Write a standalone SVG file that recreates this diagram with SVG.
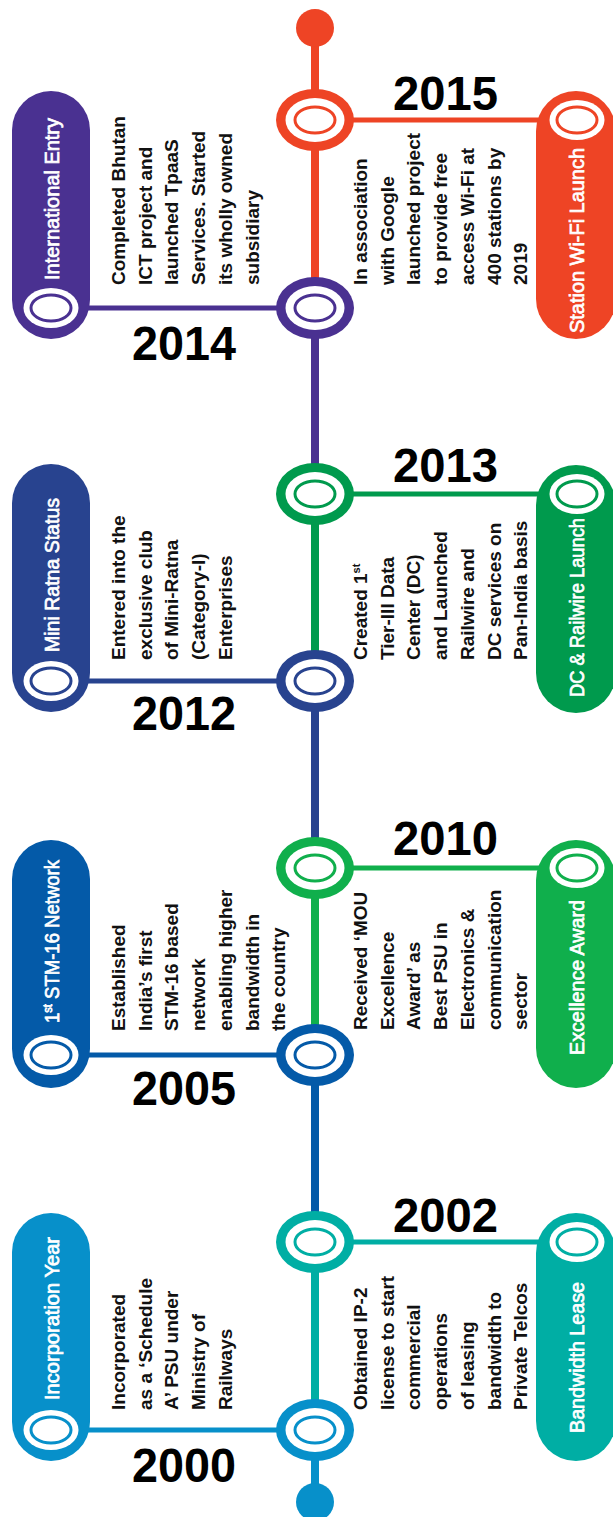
<svg xmlns="http://www.w3.org/2000/svg" xmlns:xlink="http://www.w3.org/1999/xlink" width="613" height="1517" viewBox="0 0 613 1517">
<style>
.desc{font-family:"Liberation Sans",Arial,sans-serif;font-weight:bold;font-size:19px;fill:#111}
.lbl{font-family:"Liberation Sans",Arial,sans-serif;font-weight:normal;font-size:20px;fill:#fff;stroke:#fff;stroke-width:0.7}
.yr{font-family:"Liberation Sans",Arial,sans-serif;font-weight:bold;font-size:48px;fill:#000}
.sp{stroke-width:8}
.hc{stroke-width:5}
.c15{color:#EE4425}.c14{color:#4A3191}.c13{color:#009A4D}.c12{color:#28438F}
.c10{color:#10AF4C}.c05{color:#045AA8}.c02{color:#00AEA4}.c00{color:#0790CA}
</style>
<defs>
<g id="hub"><ellipse rx="39" ry="31" fill="currentColor"/><ellipse rx="29.5" ry="22" fill="#fff"/><ellipse rx="20" ry="13" fill="#fff" stroke="currentColor" stroke-width="3"/></g>
<g id="pin"><ellipse rx="27.5" ry="20" fill="#fff"/><ellipse rx="20" ry="13" fill="#fff" stroke="currentColor" stroke-width="3"/></g>
</defs>
<rect width="613" height="1517" fill="#fff"/>
<g id="connectors">
<line class="sp" x1="315" y1="28" x2="315" y2="308" stroke="#EE4425"/>
<line class="sp" x1="315" y1="308" x2="315" y2="494" stroke="#4A3191"/>
<line class="sp" x1="315" y1="494" x2="315" y2="681" stroke="#009A4D"/>
<line class="sp" x1="315" y1="681" x2="315" y2="868" stroke="#28438F"/>
<line class="sp" x1="315" y1="868" x2="315" y2="1055" stroke="#10AF4C"/>
<line class="sp" x1="315" y1="1055" x2="315" y2="1242" stroke="#045AA8"/>
<line class="sp" x1="315" y1="1242" x2="315" y2="1430" stroke="#00AEA4"/>
<line class="sp" x1="315" y1="1430" x2="315" y2="1502" stroke="#0790CA"/>
<circle cx="315" cy="28" r="19" fill="#EE4425"/>
<circle cx="315" cy="1502" r="19" fill="#0790CA"/>
<line class="hc" x1="315" y1="120" x2="560" y2="120" stroke="#EE4425"/>
<line class="hc" x1="51" y1="308" x2="315" y2="308" stroke="#4A3191"/>
<line class="hc" x1="315" y1="494" x2="560" y2="494" stroke="#009A4D"/>
<line class="hc" x1="51" y1="681" x2="315" y2="681" stroke="#28438F"/>
<line class="hc" x1="315" y1="868" x2="560" y2="868" stroke="#10AF4C"/>
<line class="hc" x1="51" y1="1055" x2="315" y2="1055" stroke="#045AA8"/>
<line class="hc" x1="315" y1="1242" x2="560" y2="1242" stroke="#00AEA4"/>
<line class="hc" x1="51" y1="1430" x2="315" y2="1430" stroke="#0790CA"/>
</g>

<g id="node-2015" class="c15">
<use xlink:href="#hub" x="315" y="120"/>
<rect x="536" y="91" width="80" height="248" rx="40" fill="currentColor"/>
<use xlink:href="#pin" x="577" y="120"/>
<text class="lbl" transform="translate(584,333) rotate(-90)" textLength="185" lengthAdjust="spacingAndGlyphs">Station Wi-Fi Launch</text>
<text class="yr" x="393" y="110" textLength="105" lengthAdjust="spacingAndGlyphs">2015</text>
<text class="desc" transform="translate(367,285) rotate(-90)"><tspan x="0" y="0">In association</tspan><tspan x="0" dy="26.7">with Google</tspan><tspan x="0" dy="26.7">launched project</tspan><tspan x="0" dy="26.7">to provide free</tspan><tspan x="0" dy="26.7">access Wi-Fi at</tspan><tspan x="0" dy="26.7">400 stations by</tspan><tspan x="0" dy="26.7">2019</tspan></text>
</g>

<g id="node-2014" class="c14">
<use xlink:href="#hub" x="315" y="308"/>
<rect x="12" y="91" width="78" height="248" rx="39" fill="currentColor"/>
<use xlink:href="#pin" x="51" y="308"/>
<text class="lbl" transform="translate(59,280) rotate(-90)" textLength="162" lengthAdjust="spacingAndGlyphs">International Entry</text>
<text class="yr" x="132" y="360" textLength="104" lengthAdjust="spacingAndGlyphs">2014</text>
<text class="desc" transform="translate(125,285) rotate(-90)"><tspan x="0" y="0">Completed Bhutan</tspan><tspan x="0" dy="26.7">ICT project and</tspan><tspan x="0" dy="26.7">launched TpaaS</tspan><tspan x="0" dy="26.7">Services. Started</tspan><tspan x="0" dy="26.7">its wholly owned</tspan><tspan x="0" dy="26.7">subsidiary</tspan></text>
</g>

<g id="node-2013" class="c13">
<use xlink:href="#hub" x="315" y="494"/>
<rect x="536" y="465" width="80" height="248" rx="40" fill="currentColor"/>
<use xlink:href="#pin" x="577" y="494"/>
<text class="lbl" transform="translate(584,697) rotate(-90)" textLength="179" lengthAdjust="spacingAndGlyphs">DC &amp; Railwire Launch</text>
<text class="yr" x="393" y="482" textLength="105" lengthAdjust="spacingAndGlyphs">2013</text>
<text class="desc" transform="translate(367,660) rotate(-90)"><tspan x="0" y="0">Created 1</tspan><tspan dy="-7" font-size="11">st</tspan><tspan x="0" y="26.7">Tier-III Data</tspan><tspan x="0" dy="26.7">Center (DC)</tspan><tspan x="0" dy="26.7">and Launched</tspan><tspan x="0" dy="26.7">Railwire and</tspan><tspan x="0" dy="26.7">DC services on</tspan><tspan x="0" dy="26.7">Pan-India basis</tspan></text>
</g>

<g id="node-2012" class="c12">
<use xlink:href="#hub" x="315" y="681"/>
<rect x="12" y="464" width="78" height="248" rx="39" fill="currentColor"/>
<use xlink:href="#pin" x="51" y="681"/>
<text class="lbl" transform="translate(59,652) rotate(-90)" textLength="154" lengthAdjust="spacingAndGlyphs">Mini Ratna Status</text>
<text class="yr" x="132" y="730" textLength="104" lengthAdjust="spacingAndGlyphs">2012</text>
<text class="desc" transform="translate(125,660) rotate(-90)"><tspan x="0" y="0">Entered into the</tspan><tspan x="0" dy="26.7">exclusive club</tspan><tspan x="0" dy="26.7">of Mini-Ratna</tspan><tspan x="0" dy="26.7">(Category-I)</tspan><tspan x="0" dy="26.7">Enterprises</tspan></text>
</g>

<g id="node-2010" class="c10">
<use xlink:href="#hub" x="315" y="868"/>
<rect x="536" y="840" width="80" height="248" rx="40" fill="currentColor"/>
<use xlink:href="#pin" x="577" y="868"/>
<text class="lbl" transform="translate(584,1055) rotate(-90)" textLength="155" lengthAdjust="spacingAndGlyphs">Excellence Award</text>
<text class="yr" x="393" y="855" textLength="105" lengthAdjust="spacingAndGlyphs">2010</text>
<text class="desc" transform="translate(367,1030) rotate(-90)"><tspan x="0" y="0">Received ‘MOU</tspan><tspan x="0" dy="26.7">Excellence</tspan><tspan x="0" dy="26.7">Award’ as</tspan><tspan x="0" dy="26.7">Best PSU in</tspan><tspan x="0" dy="26.7">Electronics &amp;</tspan><tspan x="0" dy="26.7">communication</tspan><tspan x="0" dy="26.7">sector</tspan></text>
</g>

<g id="node-2005" class="c05">
<use xlink:href="#hub" x="315" y="1055"/>
<rect x="12" y="840" width="78" height="248" rx="39" fill="currentColor"/>
<use xlink:href="#pin" x="51" y="1055"/>
<text class="lbl" transform="translate(59,1023) rotate(-90)" textLength="163" lengthAdjust="spacingAndGlyphs">1<tspan dy="-7" font-size="12">st</tspan><tspan dy="7"> STM-16 Network</tspan></text>
<text class="yr" x="132" y="1105" textLength="104" lengthAdjust="spacingAndGlyphs">2005</text>
<text class="desc" transform="translate(125,1031) rotate(-90)"><tspan x="0" y="0">Established</tspan><tspan x="0" dy="26.7">India’s first</tspan><tspan x="0" dy="26.7">STM-16 based</tspan><tspan x="0" dy="26.7">network</tspan><tspan x="0" dy="26.7">enabling higher</tspan><tspan x="0" dy="26.7">bandwidth in</tspan><tspan x="0" dy="26.7">the country</tspan></text>
</g>

<g id="node-2002" class="c02">
<use xlink:href="#hub" x="315" y="1242"/>
<rect x="536" y="1213" width="80" height="248" rx="40" fill="currentColor"/>
<use xlink:href="#pin" x="577" y="1242"/>
<text class="lbl" transform="translate(584,1433) rotate(-90)" textLength="151" lengthAdjust="spacingAndGlyphs">Bandwidth Lease</text>
<text class="yr" x="393" y="1232" textLength="105" lengthAdjust="spacingAndGlyphs">2002</text>
<text class="desc" transform="translate(367,1410) rotate(-90)"><tspan x="0" y="0">Obtained IP-2</tspan><tspan x="0" dy="26.7">license to start</tspan><tspan x="0" dy="26.7">commercial</tspan><tspan x="0" dy="26.7">operations</tspan><tspan x="0" dy="26.7">of leasing</tspan><tspan x="0" dy="26.7">bandwidth to</tspan><tspan x="0" dy="26.7">Private Telcos</tspan></text>
</g>

<g id="node-2000" class="c00">
<use xlink:href="#hub" x="315" y="1430"/>
<rect x="12" y="1213" width="78" height="248" rx="39" fill="currentColor"/>
<use xlink:href="#pin" x="51" y="1430"/>
<text class="lbl" transform="translate(59,1400) rotate(-90)" textLength="163" lengthAdjust="spacingAndGlyphs">Incorporation Year</text>
<text class="yr" x="132" y="1482" textLength="104" lengthAdjust="spacingAndGlyphs">2000</text>
<text class="desc" transform="translate(125,1410) rotate(-90)"><tspan x="0" y="0">Incorporated</tspan><tspan x="0" dy="26.7">as a ‘Schedule</tspan><tspan x="0" dy="26.7">A’ PSU under</tspan><tspan x="0" dy="26.7">Ministry of</tspan><tspan x="0" dy="26.7">Railways</tspan></text>
</g>
</svg>
